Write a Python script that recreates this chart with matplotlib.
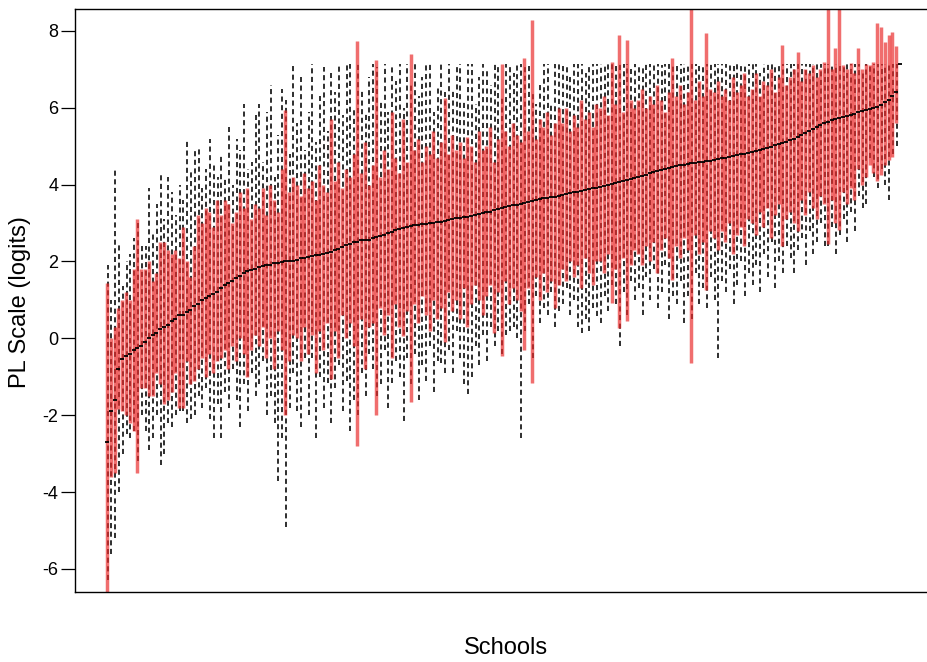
import numpy as np
import matplotlib.pyplot as plt

plt.rcParams['font.family'] = ['Liberation Sans', 'DejaVu Sans']

# one entry per school, schools sorted by median
median = [
    -2.7, -1.9, -1.6, -0.8, -0.55, -0.45, -0.4, -0.3, -0.25, -0.2,
    -0.1, 0.0, 0.1, 0.15, 0.25, 0.3, 0.35, 0.45, 0.5, 0.6,
    0.62, 0.68, 0.75, 0.85, 0.9, 1.0, 1.05, 1.1, 1.15, 1.2,
    1.3, 1.38, 1.45, 1.5, 1.58, 1.62, 1.7, 1.75, 1.78, 1.8,
    1.85, 1.88, 1.9, 1.92, 1.95, 1.97, 1.98, 2.0, 2.0, 2.02,
    2.05, 2.08, 2.1, 2.12, 2.14, 2.17, 2.18, 2.2, 2.22, 2.25,
    2.3, 2.33, 2.38, 2.42, 2.46, 2.5, 2.52, 2.55, 2.56, 2.57,
    2.6, 2.63, 2.67, 2.7, 2.74, 2.78, 2.82, 2.85, 2.87, 2.9,
    2.92, 2.94, 2.95, 2.97, 2.98, 3.0, 3.01, 3.02, 3.04, 3.05,
    3.08, 3.1, 3.12, 3.14, 3.15, 3.17, 3.19, 3.21, 3.23, 3.25,
    3.28, 3.3, 3.33, 3.36, 3.38, 3.41, 3.44, 3.46, 3.48, 3.5,
    3.52, 3.55, 3.58, 3.6, 3.63, 3.65, 3.66, 3.68, 3.69, 3.7,
    3.73, 3.75, 3.78, 3.8, 3.82, 3.84, 3.86, 3.88, 3.9, 3.92,
    3.95, 3.97, 4.0, 4.02, 4.05, 4.08, 4.1, 4.12, 4.14, 4.16,
    4.2, 4.23, 4.26, 4.29, 4.32, 4.35, 4.38, 4.41, 4.43, 4.45,
    4.48, 4.5, 4.52, 4.54, 4.56, 4.57, 4.58, 4.6, 4.61, 4.62,
    4.64, 4.66, 4.68, 4.7, 4.72, 4.74, 4.77, 4.79, 4.81, 4.83,
    4.85, 4.87, 4.9, 4.93, 4.96, 4.99, 5.02, 5.05, 5.08, 5.12,
    5.16, 5.2, 5.25, 5.3, 5.35, 5.4, 5.45, 5.5, 5.55, 5.6,
    5.64, 5.67, 5.7, 5.73, 5.76, 5.78, 5.8, 5.84, 5.88, 5.92,
    5.93, 5.96, 6.0, 6.03, 6.08, 6.14, 6.2, 6.3, 6.42, 7.15,
]

red_lo = [
    -6.9, -3.6, -3.5, -1.85, -1.9, -2.0, -2.2, -2.4, -3.5, -1.3,
    -1.3, -1.5, -1.5, -0.9, -1.2, -1.7, -1.6, -1.4, -0.9, -1.8,
    -1.8, -0.6, -1.2, -1.1, -0.8, -0.5, -1.0, -0.4, -0.9, -0.6,
    -0.5, -0.3, -0.8, -0.2, -0.6, 0.0, -0.4, -1.0, -0.3, 0.1,
    -0.2, 0.3, -0.5, 0.0, -0.8, 0.2, -0.3, -2.0, -0.6, 0.1,
    0.0, -0.6, 0.3, -0.4, 0.1, -0.9, 0.2, -0.3, 0.4, -1.06,
    0.2, -0.5, 0.6, 0.0, 0.4, -0.2, -2.8, 0.5, -0.8, 0.3,
    0.4, -2.0, 0.8, 0.1, 0.6, -0.5, 0.9, 0.3, 0.05, 0.7,
    -1.66, 0.9, 0.4, 1.1, 0.6, 0.2, 1.0, 0.5, 0.8, -0.1,
    1.2, 0.7, 1.0, 0.5, 1.3, 0.3, 0.9, 1.4, 1.0, 0.6,
    1.1, 1.4, 0.15, 1.2, -0.46, 1.5, 0.9, 1.3, 1.0, 0.7,
    -0.3, 1.3, -1.15, 1.6, 1.0, 1.7, 1.2, 1.5, 0.8, 1.4,
    1.8, 1.5, 2.0, 1.6, 1.9, 1.3, 2.1, 1.7, 1.4, 2.0,
    2.0, 1.7, 2.2, 0.93, 1.8, 0.28, 2.1, 0.45, 1.9, 2.3,
    2.2, 1.9, 2.4, 2.0, 2.5, 1.7, 2.3, 2.6, 2.1, 1.53,
    2.4, 2.1, 2.6, 2.3, -0.63, 2.7, 2.2, 2.5, 1.27, 2.8,
    2.6, 2.3, 2.8, 2.5, 3.0, 2.2, 2.7, 2.9, 2.4, 3.1,
    3.0, 2.7, 3.3, 2.9, 3.4, 2.6, 3.2, 3.5, 2.4, 3.1,
    3.3, 3.0, 2.8, 3.6, 3.2, 3.8, 3.4, 3.1, 3.7, 3.5,
    2.45, 3.6, 3.0, 2.83, 3.8, 3.5, 3.9, 3.6, 4.4, 4.0,
    4.2, 4.5, 4.3, 4.1, 4.25, 4.5, 4.65, 4.73, 5.6, 7.15,
]

red_hi = [
    1.45, 0.0, 0.3, 0.8, 1.0, 1.2, 1.0, 1.8, 3.1, 1.8,
    1.8, 2.0, 1.5, 1.7, 2.5, 2.5, 2.3, 2.2, 2.3, 2.1,
    2.9, 2.0, 1.6, 2.4, 3.2, 3.0, 3.4, 3.3, 2.9, 3.6,
    3.2, 3.6, 3.5, 3.0, 3.3, 3.8, 3.4, 3.9, 3.1, 3.5,
    3.4, 3.9, 3.2, 4.0, 3.6, 3.3, 4.4, 5.95, 3.8, 4.2,
    4.0, 3.7, 4.3, 3.9, 4.1, 3.6, 4.5, 4.0, 3.8, 5.7,
    4.1, 4.6, 3.9, 4.4, 4.2, 4.8, 7.75, 4.3, 5.1, 4.0,
    4.5, 7.25, 4.2, 4.9, 4.4, 5.9, 4.7, 4.3, 5.7, 4.6,
    7.4, 4.9, 5.2, 4.6, 5.0, 4.8, 5.4, 4.7, 5.1, 6.25,
    4.8, 5.3, 4.9, 5.1, 4.7, 5.25, 5.0, 4.6, 5.4, 4.9,
    5.0, 5.5, 4.6, 5.2, 7.15, 5.4, 5.0, 5.6, 5.3, 5.1,
    7.3, 5.4, 8.28, 5.2, 5.7, 5.5, 5.9, 5.3, 5.6, 6.0,
    5.6, 6.0, 5.4, 5.8, 5.5, 6.2, 5.7, 5.9, 5.5, 6.1,
    6.0, 6.3, 5.8, 7.2, 6.1, 7.9, 5.9, 7.77, 6.2, 6.0,
    6.2, 6.5, 6.0, 6.3, 6.1, 6.6, 6.2, 5.9, 6.4, 7.3,
    6.3, 6.6, 6.1, 6.4, 8.9, 6.2, 6.7, 6.3, 7.95, 6.5,
    6.4, 6.7, 6.3, 6.5, 6.2, 6.8, 6.4, 6.6, 6.9, 6.3,
    6.5, 6.9, 6.3, 6.7, 6.6, 7.0, 6.4, 6.8, 7.64, 6.6,
    6.8, 7.0, 7.45, 6.7, 7.0, 6.9, 7.1, 6.8, 7.0, 7.2,
    8.9, 7.0, 7.55, 8.9, 7.1, 7.0, 7.17, 6.9, 7.55, 7.0,
    7.15, 7.1, 7.2, 8.2, 8.1, 7.7, 7.9, 7.97, 7.6, 7.15,
]

whisk_lo = [
    -6.3, -5.6, -5.2, -4.0, -3.0, -2.5, -2.6, -2.4, -3.2, -2.0,
    -2.4, -2.9, -2.6, -2.0, -3.3, -3.0, -2.2, -2.3, -2.0, -1.9,
    -1.9, -2.2, -2.1, -2.0, -1.5, -1.8, -1.3, -2.1, -2.6, -1.7,
    -2.6, -1.4, -1.8, -0.8, -1.6, -2.3, -1.2, -1.9, -0.9, -1.5,
    -1.2, -0.6, -2.0, -1.5, -2.2, -3.7, -2.6, -4.9, -1.8, -0.9,
    -1.9, -2.3, -0.5, -2.0, -0.5, -2.6, -1.0, -1.8, -1.15, -2.2,
    -1.3, -0.7, -1.9, -1.1, -2.4, -1.6, -2.0, -0.9, -1.5, -0.4,
    -0.8, -1.5, -1.2, -0.3, -1.8, -1.15, -0.6, -1.0, -2.15, -0.5,
    -1.2, -0.4, -1.6, -0.7, -1.1, -0.2, -1.4, -0.6, -0.63, -0.9,
    -0.3, -0.9, 0.2, -0.5, -1.2, -1.45, -1.0, -0.2, -0.7, 0.1,
    -0.6, 0.3, -0.2, 0.2, -0.4, 0.1, 0.2, 0.3, 0.0, -2.6,
    0.2, 0.9, -0.5, 1.1, 0.4, 0.8, 0.6, 1.2, 0.3, 0.7,
    0.9, 1.3, 0.6, 1.0, 0.3, 0.15, 0.5, 0.2, 0.8, 0.57,
    0.4, 1.1, 0.7, 1.4, 0.9, -0.2, 1.2, 0.6, 1.5, 1.0,
    1.3, 0.6, 1.6, 1.0, 1.8, 0.8, 1.2, 1.9, 0.5, 1.1,
    0.9, 1.5, 0.4, 1.1, 0.5, 1.7, 0.9, 1.3, 0.8, 1.6,
    1.0, -0.5, 1.5, 1.2, 1.8, 0.9, 1.4, 2.0, 1.1, 1.7,
    1.4, 1.9, 1.2, 2.2, 1.6, 2.5, 1.3, 2.0, 1.7, 2.4,
    2.1, 1.7, 2.3, 2.6, 1.9, 2.8, 2.2, 2.5, 3.0, 2.4,
    2.4, 2.9, 2.2, 2.7, 3.1, 2.5, 3.3, 2.8, 3.7, 3.4,
    3.5, 4.7, 4.2, 3.9, 4.4, 4.0, 3.6, 4.8, 5.0, 7.15,
]

whisk_hi = [
    1.9, 1.0, 4.4, 2.5, 1.35, 2.0, 2.2, 2.6, 3.0, 2.4,
    2.4, 3.9, 2.8, 3.5, 4.3, 3.1, 4.2, 3.8, 3.2, 4.0,
    3.6, 5.2, 4.4, 4.9, 5.0, 3.9, 4.4, 5.2, 4.6, 4.2,
    4.8, 4.2, 5.5, 4.0, 5.2, 4.9, 6.1, 4.4, 4.6, 5.8,
    6.1, 4.6, 5.9, 6.6, 4.2, 5.3, 6.5, 6.2, 4.8, 7.15,
    5.6, 6.8, 4.9, 5.9, 7.15, 5.1, 6.3, 7.07, 5.4, 6.9,
    6.4, 7.15, 5.8, 7.15, 7.15, 6.0, 7.15, 6.5, 5.9, 6.8,
    7.15, 7.07, 6.2, 7.15, 5.9, 7.15, 6.7, 7.15, 6.0, 7.15,
    6.6, 7.15, 6.3, 6.8, 7.15, 7.15, 5.9, 6.6, 7.15, 6.4,
    7.15, 6.5, 7.15, 7.15, 6.2, 7.15, 7.15, 6.1, 6.8, 7.15,
    7.0, 6.6, 7.15, 7.15, 6.3, 7.15, 7.15, 6.9, 7.15, 7.15,
    7.15, 7.15, 6.4, 6.1, 6.6, 7.15, 7.15, 6.1, 7.15, 7.15,
    7.15, 7.15, 6.8, 7.15, 7.15, 7.15, 6.9, 7.15, 7.15, 7.15,
    7.15, 7.15, 7.15, 7.15, 7.15, 7.15, 7.15, 7.15, 7.0, 7.15,
    7.15, 7.1, 7.15, 7.15, 7.1, 7.15, 7.1, 7.15, 7.15, 7.1,
    7.15, 7.15, 7.15, 7.15, 7.15, 7.15, 7.15, 7.15, 7.15, 7.15,
    7.15, 7.15, 7.15, 7.15, 7.15, 7.15, 7.15, 7.15, 7.15, 7.15,
    7.15, 7.15, 6.9, 7.15, 7.15, 7.15, 7.15, 7.15, 7.15, 7.15,
    7.15, 7.15, 7.15, 7.15, 7.15, 7.15, 7.15, 7.15, 7.15, 7.15,
    7.15, 7.15, 7.15, 7.15, 7.15, 7.15, 7.15, 7.15, 7.15, 6.9,
    7.15, 7.15, 7.15, 7.15, 7.15, 7.15, 7.15, 7.15, 7.15, 7.15,
]

y_ticks = [-6, -4, -2, 0, 2, 4, 6, 8]

n = len(median)
x = np.arange(1, n + 1)

fig = plt.figure(figsize=(9.28, 6.62), dpi=100)
ax = fig.add_axes([75 / 928, 70 / 662, 855 / 928, 583 / 662])

# dashed whiskers underneath, red intervals on top, medians last
ax.vlines(x + 0.15, whisk_lo, whisk_hi, colors='black', linewidth=1.15,
          linestyles=(0, (3.2, 2.2)), zorder=1)
ax.vlines(x, red_lo, red_hi, colors='#EA2A2A', alpha=0.68,
          linewidth=2.5, zorder=2)
ax.plot(x, median, ls='none', marker='_', ms=2.6, mew=1.3,
        color='black', zorder=3)

spacing = 793 / (n - 1)
ax.set_xlim(1 - 32 / spacing, n + 30 / spacing)
ax.set_ylim(-6.6, 8.57)
ax.set_xticks([])
ax.set_yticks(y_ticks)
ax.set_yticklabels([str(t) for t in y_ticks])
ax.tick_params(axis='y', direction='out', length=10, width=0.9,
               labelsize=13, pad=2)
for side in ['left', 'bottom', 'top']:
    ax.spines[side].set_linewidth(1.0)
ax.spines['right'].set_visible(False)

fig.text(20 / 928, 1 - 302 / 662, 'PL Scale (logits)', rotation=90,
         ha='center', va='center', fontsize=17)
fig.text(506 / 928, 1 - 648 / 662, 'Schools', ha='center', va='center',
         fontsize=17)

fig.savefig('out.png', dpi=100)
